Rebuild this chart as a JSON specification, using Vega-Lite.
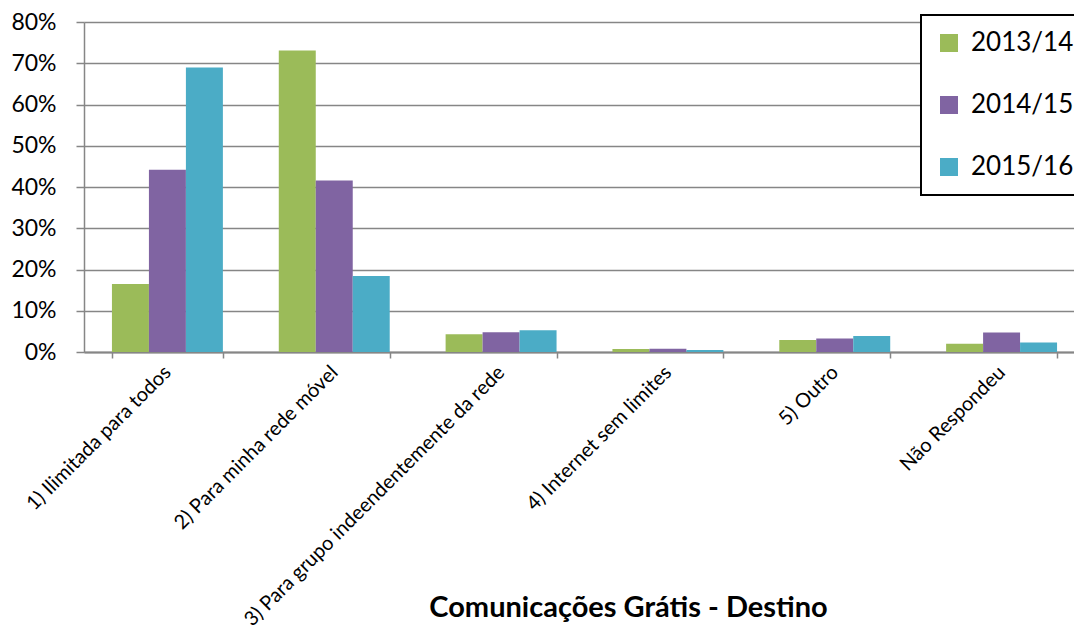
{
  "$schema": "https://vega.github.io/schema/vega-lite/v6.json",
  "autosize": {"type": "none"},
  "padding": {"left": 84, "top": 22, "right": 0, "bottom": 280},
  "width": 990,
  "height": 330,
  "background": "white",
  "config": {"font": "Lato", "view": {"stroke": null}, "legend": {"strokeWidth": 2}},
  "data": {"values": [
    {"cat": "1) Ilimitada para todos", "ano": "2013/14", "v": 0.165},
    {"cat": "1) Ilimitada para todos", "ano": "2014/15", "v": 0.442},
    {"cat": "1) Ilimitada para todos", "ano": "2015/16", "v": 0.690},
    {"cat": "2) Para minha rede móvel", "ano": "2013/14", "v": 0.731},
    {"cat": "2) Para minha rede móvel", "ano": "2014/15", "v": 0.416},
    {"cat": "2) Para minha rede móvel", "ano": "2015/16", "v": 0.184},
    {"cat": "3) Para grupo indeendentemente da rede", "ano": "2013/14", "v": 0.043},
    {"cat": "3) Para grupo indeendentemente da rede", "ano": "2014/15", "v": 0.048},
    {"cat": "3) Para grupo indeendentemente da rede", "ano": "2015/16", "v": 0.053},
    {"cat": "4) Internet sem limites", "ano": "2013/14", "v": 0.007},
    {"cat": "4) Internet sem limites", "ano": "2014/15", "v": 0.008},
    {"cat": "4) Internet sem limites", "ano": "2015/16", "v": 0.005},
    {"cat": "5) Outro", "ano": "2013/14", "v": 0.029},
    {"cat": "5) Outro", "ano": "2014/15", "v": 0.033},
    {"cat": "5) Outro", "ano": "2015/16", "v": 0.039},
    {"cat": "Não Respondeu", "ano": "2013/14", "v": 0.020},
    {"cat": "Não Respondeu", "ano": "2014/15", "v": 0.047},
    {"cat": "Não Respondeu", "ano": "2015/16", "v": 0.023}
  ]},
  "mark": {"type": "bar"},
  "encoding": {
    "x": {
      "field": "cat", "type": "nominal", "sort": null,
      "scale": {"rangeMin": 0, "rangeMax": 1001, "paddingInner": 0.335, "paddingOuter": 0.1675},
      "axis": {
        "title": "Comunicações Grátis - Destino",
        "titleFontSize": 29, "titleFontWeight": "bold", "titleColor": "black",
        "titleX": 544, "titleY": 264, "titleBaseline": "alphabetic", "titleAlign": "center",
        "labelAngle": -45, "labelAlign": "right", "labelBaseline": "middle",
        "labelFontSize": 20, "labelColor": "black", "labelPadding": 11, "labelLimit": 0,
        "domainColor": "#868686", "domainWidth": 2,
        "tickColor": "#868686", "tickWidth": 1.5, "tickSize": 6, "tickBand": "extent",
        "grid": false
      }
    },
    "xOffset": {"field": "ano", "type": "nominal", "sort": ["2013/14", "2014/15", "2015/16"]},
    "y": {
      "field": "v", "type": "quantitative",
      "scale": {"domain": [0, 0.8], "nice": false},
      "axis": {
        "title": null, "format": ".0%", "values": [0, 0.1, 0.2, 0.3, 0.4, 0.5, 0.6, 0.7, 0.8],
        "labelFontSize": 23, "labelColor": "black", "labelPadding": 20,
        "domainColor": "#868686", "domainWidth": 1.5,
        "tickColor": "#868686", "tickWidth": 1.5, "tickSize": 8,
        "grid": true, "gridColor": "#868686", "gridWidth": 1.5
      }
    },
    "color": {
      "field": "ano", "type": "nominal",
      "scale": {"domain": ["2013/14", "2014/15", "2015/16"], "range": ["#9BBB59", "#8064A2", "#4BACC6"]},
      "legend": {
        "title": null, "orient": "none", "legendX": 837, "legendY": -7,
        "direction": "vertical",
        "fillColor": "white", "strokeColor": "black",
        "padding": 15, "rowPadding": 36,
        "symbolType": "square", "symbolSize": 324, "symbolStrokeWidth": 0,
        "labelFontSize": 26, "labelColor": "black", "labelOffset": 9
      }
    }
  }
}
